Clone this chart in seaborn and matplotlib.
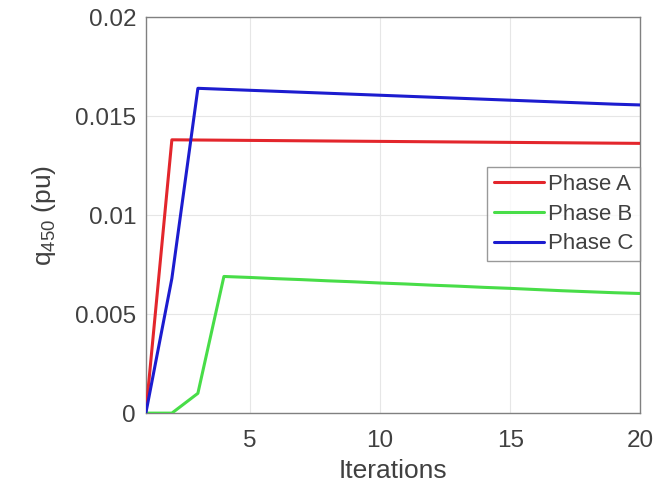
import pandas as pd
import matplotlib
matplotlib.use("Agg")
import matplotlib.pyplot as plt
import seaborn as sns

# Iteration numbers
iterations = list(range(1, 21))

# q450 per phase (pu)
phase_a = [0.0, 0.0138, 0.01379, 0.01378, 0.01377, 0.01376, 0.01375, 0.01374,
           0.01373, 0.01372, 0.01371, 0.01370, 0.01369, 0.01368, 0.01367,
           0.01366, 0.01365, 0.01364, 0.01363, 0.01362]
phase_b = [0.0, 0.0, 0.001, 0.0069, 0.00685, 0.00679, 0.00674, 0.00668,
           0.00663, 0.00657, 0.00652, 0.00646, 0.00641, 0.00635, 0.0063,
           0.00624, 0.00618, 0.00613, 0.00608, 0.00604]
phase_c = [0.0, 0.0068, 0.0164, 0.01635, 0.0163, 0.01625, 0.0162, 0.01615,
           0.0161, 0.01605, 0.016, 0.01595, 0.0159, 0.01585, 0.0158,
           0.01575, 0.0157, 0.01565, 0.0156, 0.01556]

phase_names = ["Phase A", "Phase B", "Phase C"]
y_ticks = [0, 0.005, 0.01, 0.015, 0.02]
y_tick_labels = ["0", "0.005", "0.01", "0.015", "0.02"]
x_ticks = [5, 10, 15, 20]

# long table for seaborn
df = pd.DataFrame({
    "Iterations": iterations * 3,
    "q": phase_a + phase_b + phase_c,
    "Phase": [p for p in phase_names for _ in iterations],
})

sns.set_theme(style="white")
plt.rcParams["font.family"] = ["Liberation Sans", "DejaVu Sans"]
plt.rcParams["mathtext.fontset"] = "custom"
plt.rcParams["mathtext.rm"] = "Liberation Sans"
plt.rcParams["mathtext.it"] = "Liberation Sans"

text_col = "#404040"
edge_col = "#808080"
colors = {"Phase A": "#e3262c", "Phase B": "#48dd48", "Phase C": "#1c1ccf"}

fig = plt.figure(figsize=(6.69, 4.93), dpi=100)
ax = fig.add_axes([0.218, 0.162, 0.739, 0.8035])

sns.lineplot(data=df, x="Iterations", y="q", hue="Phase", palette=colors,
             linewidth=2.2, ax=ax, zorder=3)

ax.set_xlim(1, 20)
ax.set_ylim(0, 0.02)
ax.set_xticks(x_ticks)
ax.set_yticks(y_ticks)
ax.set_yticklabels(y_tick_labels)
ax.grid(True, color="#e6e6e6", linewidth=0.8)
ax.tick_params(direction="in", length=4, colors=edge_col, labelcolor=text_col,
               labelsize=17.5)
ax.tick_params(axis="x", pad=12)
ax.tick_params(axis="y", pad=7)
for s in ax.spines.values():
    s.set_visible(True)
    s.set_color(edge_col)
    s.set_linewidth(1.0)

ax.set_xlabel("Iterations", fontsize=19, color=text_col, labelpad=5)
ax.set_ylabel(r"$\mathregular{q_{450}}$ (pu)", fontsize=19, color=text_col,
              labelpad=12)

leg = ax.legend(loc="center right", bbox_to_anchor=(1.0, 0.5025),
                borderaxespad=0, frameon=True, fancybox=False,
                fontsize=16, handlelength=2.25, handletextpad=0.2,
                labelspacing=0.4, borderpad=0.3)
leg.get_frame().set_edgecolor(edge_col)
leg.get_frame().set_linewidth(1.0)
for t in leg.get_texts():
    t.set_color(text_col)

plt.savefig("out.png", dpi=100)
